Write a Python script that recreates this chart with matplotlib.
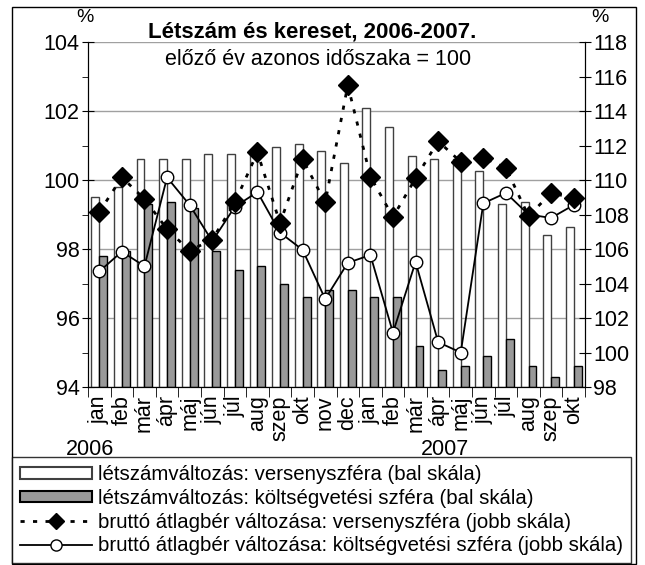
import matplotlib
matplotlib.use('Agg')
import matplotlib.pyplot as plt
from matplotlib.patches import Rectangle
from matplotlib.lines import Line2D
import numpy as np

plt.rcParams['font.family'] = ['Liberation Sans', 'DejaVu Sans']

# honapok (2006 jan - 2007 okt)
months = ['jan', 'feb', 'már', 'ápr', 'máj', 'jún', 'júl', 'aug', 'szep', 'okt', 'nov', 'dec',
          'jan', 'feb', 'már', 'ápr', 'máj', 'jún', 'júl', 'aug', 'szep', 'okt']
years = ['2006', '2007']

# letszamvaltozas (bal skala)
letszam_verseny = [99.5, 99.8, 100.6, 100.6, 100.6, 100.75, 100.75, 100.8, 100.95, 101.05, 100.85,
                   100.5, 102.1, 101.55, 100.7, 100.6, 100.6, 100.25, 99.3, 99.35, 98.4, 98.65]
letszam_kolts = [97.8, 97.95, 99.3, 99.35, 99.2, 97.95, 97.4, 97.5, 97.0, 96.6, 96.8,
                 96.8, 96.6, 96.6, 95.2, 94.5, 94.6, 94.9, 95.4, 94.6, 94.3, 94.6]

# brutto atlagber valtozasa (jobb skala)
ber_verseny = [108.15, 110.15, 108.9, 107.15, 105.9, 106.55, 108.7, 111.6, 107.5, 111.2, 108.7,
               115.5, 110.2, 107.85, 110.1, 112.25, 111.05, 111.3, 110.7, 107.9, 109.25, 108.95]
ber_kolts = [104.7, 105.85, 105.0, 110.15, 108.55, 106.45, 108.45, 109.3, 106.95, 105.95, 103.1,
             105.2, 105.65, 101.15, 105.25, 100.6, 100.0, 108.65, 109.25, 108.0, 107.8, 108.55]

W, H = 645, 565
fig = plt.figure(figsize=(W / 100, H / 100), dpi=100)
ax = fig.add_axes([88 / W, 1 - 387 / H, (585 - 88) / W, (387 - 42) / H])

x = np.arange(len(months))
bw = 0.35
ax.bar(x - bw / 2, np.array(letszam_verseny) - 94, bw, bottom=94, color='white',
       edgecolor='#404040', linewidth=1.0, zorder=2)
ax.bar(x + bw / 2, np.array(letszam_kolts) - 94, bw, bottom=94, color='#999999',
       edgecolor='black', linewidth=1.0, zorder=2)

ax.set_ylim(94, 104)
ax.set_xlim(-0.5, len(months) - 0.5)
ax.set_yticks([94, 96, 98, 100, 102, 104])
ax.set_yticks(np.arange(95, 104, 2), minor=True)
ax.yaxis.grid(True, color='#a0a0a0', linewidth=1.0)
ax.set_axisbelow(True)
ax.tick_params(axis='y', which='major', direction='inout', length=8, labelsize=15.5, pad=2)
ax.tick_params(axis='y', which='minor', direction='out', length=4)

ax.set_xticks(x)
ax.set_xticklabels(months, rotation=90, fontsize=15.5)
ax.set_xticks(np.arange(-0.5, len(months), 1), minor=True)
ax.tick_params(axis='x', which='major', length=0, pad=6)
ax.tick_params(axis='x', which='minor', direction='out', length=7)
ax.spines['top'].set_visible(False)

ax2 = ax.twinx()
ax2.plot(x, ber_verseny, color='black', linestyle=(0, (1.5, 3)), linewidth=2,
         marker='D', markersize=10, markerfacecolor='black', markeredgecolor='black', zorder=4)
ax2.plot(x, ber_kolts, color='black', linestyle='-', linewidth=1.3,
         marker='o', markersize=9, markerfacecolor='white', markeredgecolor='black', zorder=3)
ax2.set_ylim(98, 118)
ax2.set_yticks(np.arange(98, 119, 2))
ax2.tick_params(axis='y', direction='inout', length=8, labelsize=15.5, pad=2)
ax2.spines['top'].set_visible(False)

# evszamok
ax.text(-0.4, -0.18, years[0], transform=ax.get_xaxis_transform(), fontsize=15.5, ha='center', va='center')
ax.text(15.3, -0.18, years[1], transform=ax.get_xaxis_transform(), fontsize=15.5, ha='center', va='center')

fig.text(312 / W, 1 - 32 / H, 'Létszám és kereset, 2006-2007.', fontsize=16, fontweight='bold',
         ha='center', va='center')
fig.text(318 / W, 1 - 60 / H, 'előző év azonos időszaka = 100', fontsize=15.5, ha='center', va='center')
fig.text(85 / W, 1 - 17 / H, '%', fontsize=14, ha='center', va='center')
fig.text(600 / W, 1 - 17 / H, '%', fontsize=14, ha='center', va='center')

handles = [
    Rectangle((0, 0), 1, 1, facecolor='white', edgecolor='#404040', linewidth=1.5),
    Rectangle((0, 0), 1, 1, facecolor='#999999', edgecolor='black', linewidth=1.5),
    Line2D([], [], color='black', linestyle=(0, (1.5, 3)), linewidth=2, marker='D', markersize=8,
           markerfacecolor='black'),
    Line2D([], [], color='black', linestyle='-', linewidth=1.3, marker='o', markersize=8,
           markerfacecolor='white', markeredgecolor='black'),
]
labels = [
    'létszámváltozás: versenyszféra (bal skála)',
    'létszámváltozás: költségvetési szféra (bal skála)',
    'bruttó átlagbér változása: versenyszféra (jobb skála)',
    'bruttó átlagbér változása: költségvetési szféra (jobb skála)',
]
leg = fig.legend(handles, labels, loc='upper left', bbox_to_anchor=(12 / W, 1 - 457 / H),
                 fontsize=14.7, frameon=True, fancybox=False, edgecolor='black',
                 handlelength=3.5, handleheight=0.5, handletextpad=0.3, labelspacing=0.23,
                 borderpad=0.4, borderaxespad=0, numpoints=1)
leg.get_frame().set_linewidth(1.0)

fig.patches.append(Rectangle((12 / W, 1 / H), 624 / W, 557 / H, transform=fig.transFigure,
                             fill=False, edgecolor='black', linewidth=1.0))

fig.savefig('out.png', dpi=100)
